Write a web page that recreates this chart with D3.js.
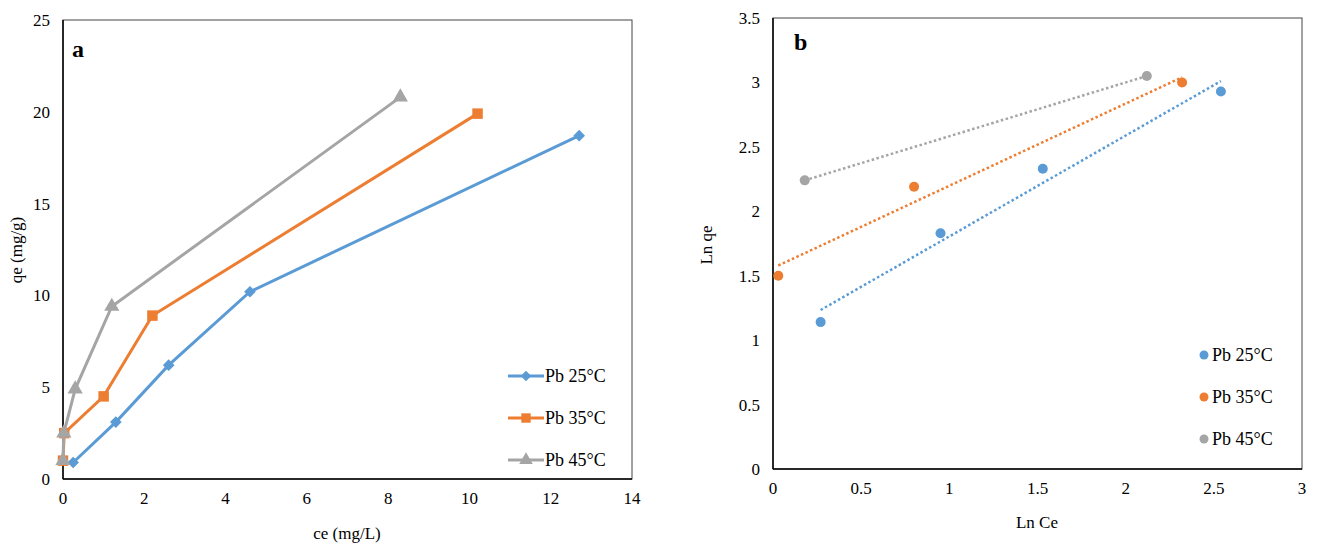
<!DOCTYPE html>
<html>
<head>
<meta charset="utf-8">
<script src="https://cdn.jsdelivr.net/npm/d3@7"></script>
<style>
  body { margin: 0; background: #fff; }
  svg text { font-family: "Liberation Serif", "Times New Roman", Times, "DejaVu Serif", serif; }
</style>
</head>
<body>
<svg width="1319" height="545" font-family="Liberation Serif, Times New Roman, serif"></svg>
<script>
// ---- data ----
const seriesNames = ["Pb 25°C", "Pb 35°C", "Pb 45°C"];
const colors = ["#5B9BD5", "#ED7D31", "#A5A5A5"];

// panel a: ce (mg/L) vs qe (mg/g)
const ce25 = [0.25, 1.3, 2.6, 4.6, 12.7];
const qe25 = [0.9, 3.1, 6.2, 10.2, 18.7];
const ce35 = [0, 0.03, 1.0, 2.2, 10.2];
const qe35 = [1.0, 2.5, 4.5, 8.9, 19.9];
const ce45 = [0, 0.02, 0.3, 1.2, 8.3];
const qe45 = [1.0, 2.5, 4.9, 9.4, 20.8];

// panel b: Ln Ce vs Ln qe
const lnCe25 = [0.27, 0.95, 1.53, 2.54];
const lnQe25 = [1.14, 1.83, 2.33, 2.93];
const lnCe35 = [0.03, 0.8, 2.32];
const lnQe35 = [1.5, 2.19, 3.0];
const lnCe45 = [0.18, 2.12];
const lnQe45 = [2.24, 3.05];

const ticksA_x = [0, 2, 4, 6, 8, 10, 12, 14];
const ticksA_y = [0, 5, 10, 15, 20, 25];
const ticksB_x = [0, 0.5, 1, 1.5, 2, 2.5, 3];
const ticksB_y = [0, 0.5, 1, 1.5, 2, 2.5, 3, 3.5];

const FONT = "Liberation Serif, Times New Roman, serif";
const svg = d3.select("svg");
const zip = (xs, ys) => xs.map((x, i) => ({x: x, y: ys[i]}));

function frame(x, y, xt, yt, xTitle, yTitle, titlePos, letter, letterPos) {
    const g = svg.append("g").attr("font-family", FONT);
    const [x0, x1] = x.range(), [y0, y1] = y.range();
    g.append("rect")
        .attr("x", x0).attr("y", y1)
        .attr("width", x1 - x0).attr("height", y0 - y1)
        .attr("fill", "none").attr("stroke", "#444").attr("stroke-width", 1);
    g.append("line").attr("x1", x0).attr("x2", x1).attr("y1", y0).attr("y2", y0)
        .attr("stroke", "#000").attr("stroke-width", 1.5);
    g.append("line").attr("x1", x0).attr("x2", x0).attr("y1", y0).attr("y2", y1)
        .attr("stroke", "#000").attr("stroke-width", 1.5);

    g.selectAll(".xt").data(xt).enter().append("text")
        .attr("x", d => x(d)).attr("y", y0 + 25)
        .attr("text-anchor", "middle").attr("font-size", 17)
        .text(d => d);
    g.selectAll(".yt").data(yt).enter().append("text")
        .attr("x", x0 - 13).attr("y", d => y(d) + 6)
        .attr("text-anchor", "end").attr("font-size", 17)
        .text(d => d);

    g.append("text")
        .attr("x", titlePos[0]).attr("y", titlePos[1])
        .attr("text-anchor", "middle").attr("font-size", 17)
        .text(xTitle);
    g.append("text")
        .attr("transform", `translate(${titlePos[2]},${titlePos[3]}) rotate(-90)`)
        .attr("text-anchor", "middle").attr("font-size", 17)
        .text(yTitle);
    g.append("text")
        .attr("x", letterPos[0]).attr("y", letterPos[1])
        .attr("font-size", 24).attr("font-weight", "bold")
        .text(letter);
}

// ---- panel a ----
const xa = d3.scaleLinear().domain([0, 14]).range([63, 632]);
const ya = d3.scaleLinear().domain([0, 25]).range([479, 20]);
frame(xa, ya, ticksA_x, ticksA_y, "ce (mg/L)", "qe (mg/g)", [347, 539, 22, 250], "a", [72, 57]);

const dataA = [zip(ce25, qe25), zip(ce35, qe35), zip(ce45, qe45)];
const symA = [d3.symbolSquare, d3.symbolSquare, d3.symbolTriangle];
const rotA = [45, 0, 0];
const symSize = [68, 110, 100];
const lineA = d3.line().x(d => xa(d.x)).y(d => ya(d.y));

dataA.forEach((pts, i) => {
    svg.append("path").datum(pts)
        .attr("d", lineA).attr("fill", "none")
        .attr("stroke", colors[i]).attr("stroke-width", 3);
    svg.append("g").selectAll("path").data(pts).enter().append("path")
        .attr("transform", d => `translate(${xa(d.x)},${ya(d.y)}) rotate(${rotA[i]})`)
        .attr("d", d3.symbol().type(symA[i]).size(symSize[i]))
        .attr("fill", colors[i]);
});

const legA = svg.append("g").attr("font-family", FONT);
seriesNames.forEach((name, i) => {
    const ly = 376 + i * 42;
    legA.append("line").attr("x1", 508).attr("x2", 544).attr("y1", ly).attr("y2", ly)
        .attr("stroke", colors[i]).attr("stroke-width", 3);
    legA.append("path").attr("transform", `translate(526,${ly}) rotate(${rotA[i]})`)
        .attr("d", d3.symbol().type(symA[i]).size(symSize[i] * 0.8))
        .attr("fill", colors[i]);
    legA.append("text").attr("x", 545).attr("y", ly + 6)
        .attr("font-size", 18).text(name);
});

// ---- panel b ----
const xb = d3.scaleLinear().domain([0, 3]).range([773, 1302]);
const yb = d3.scaleLinear().domain([0, 3.5]).range([469, 18]);
frame(xb, yb, ticksB_x, ticksB_y, "Ln Ce", "Ln qe", [1037, 528, 712, 245], "b", [794, 50]);

const dataB = [zip(lnCe25, lnQe25), zip(lnCe35, lnQe35), zip(lnCe45, lnQe45)];

// linear trendlines (least squares), drawn over the data's x range
dataB.forEach((pts, i) => {
    const mx = d3.mean(pts, d => d.x), my = d3.mean(pts, d => d.y);
    const slope = d3.sum(pts, d => (d.x - mx) * (d.y - my)) / d3.sum(pts, d => (d.x - mx) ** 2);
    const ext = d3.extent(pts, d => d.x);
    svg.append("line")
        .attr("x1", xb(ext[0])).attr("y1", yb(my + slope * (ext[0] - mx)))
        .attr("x2", xb(ext[1])).attr("y2", yb(my + slope * (ext[1] - mx)))
        .attr("stroke", colors[i]).attr("stroke-width", 2.5)
        .attr("stroke-dasharray", "2.5,2.5");
});
dataB.forEach((pts, i) => {
    svg.append("g").selectAll("circle").data(pts).enter().append("circle")
        .attr("cx", d => xb(d.x)).attr("cy", d => yb(d.y))
        .attr("r", 5).attr("fill", colors[i]);
});

const legB = svg.append("g").attr("font-family", FONT);
seriesNames.forEach((name, i) => {
    const ly = 355 + i * 42;
    legB.append("circle").attr("cx", 1204).attr("cy", ly).attr("r", 4.5).attr("fill", colors[i]);
    legB.append("text").attr("x", 1212).attr("y", ly + 6)
        .attr("font-size", 18).text(name);
});
</script>
</body>
</html>
